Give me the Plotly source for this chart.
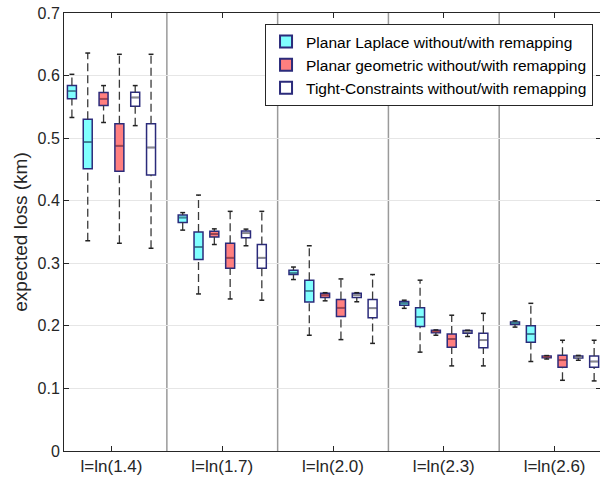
import plotly.graph_objects as go

# Group labels (privacy level) placed at integer positions 1..5
groups = ["l=ln(1.4)", "l=ln(1.7)", "l=ln(2.0)", "l=ln(2.3)", "l=ln(2.6)"]

# Box statistics: lower whisker, Q1, median, Q3, upper whisker
laplace_without_lo = [0.533, 0.353, 0.274, 0.228, 0.198]
laplace_without_q1 = [0.563, 0.365, 0.282, 0.233, 0.202]
laplace_without_md = [0.575, 0.373, 0.285, 0.236, 0.2045]
laplace_without_q3 = [0.584, 0.377, 0.289, 0.239, 0.206]
laplace_without_hi = [0.602, 0.381, 0.294, 0.241, 0.208]

laplace_with_lo = [0.336, 0.251, 0.185, 0.158, 0.143]
laplace_with_q1 = [0.451, 0.306, 0.238, 0.199, 0.174]
laplace_with_md = [0.494, 0.326, 0.256, 0.214, 0.187]
laplace_with_q3 = [0.530, 0.350, 0.273, 0.229, 0.200]
laplace_with_hi = [0.636, 0.409, 0.328, 0.273, 0.236]

geometric_without_lo = [0.525, 0.330, 0.240, 0.185, 0.147]
geometric_without_q1 = [0.552, 0.342, 0.2455, 0.189, 0.149]
geometric_without_md = [0.563, 0.347, 0.249, 0.191, 0.1507]
geometric_without_q3 = [0.573, 0.351, 0.252, 0.193, 0.152]
geometric_without_hi = [0.584, 0.355, 0.253, 0.1935, 0.1525]

geometric_with_lo = [0.332, 0.243, 0.178, 0.136, 0.113]
geometric_with_q1 = [0.447, 0.292, 0.215, 0.166, 0.134]
geometric_with_md = [0.488, 0.309, 0.229, 0.179, 0.145]
geometric_with_q3 = [0.523, 0.332, 0.242, 0.187, 0.153]
geometric_with_hi = [0.634, 0.383, 0.275, 0.217, 0.177]

tight_without_lo = [0.520, 0.328, 0.2385, 0.183, 0.145]
tight_without_q1 = [0.551, 0.341, 0.2455, 0.188, 0.1486]
tight_without_md = [0.565, 0.348, 0.249, 0.1905, 0.150]
tight_without_q3 = [0.5735, 0.3515, 0.252, 0.1925, 0.1518]
tight_without_hi = [0.584, 0.3546, 0.253, 0.193, 0.1528]

tight_with_lo = [0.324, 0.241, 0.172, 0.136, 0.112]
tight_with_q1 = [0.441, 0.292, 0.213, 0.165, 0.134]
tight_with_md = [0.485, 0.309, 0.228, 0.177, 0.143]
tight_with_q3 = [0.523, 0.330, 0.242, 0.188, 0.152]
tight_with_hi = [0.634, 0.383, 0.282, 0.220, 0.177]

method_names = [
    "Planar Laplace without/with remapping",
    "Planar geometric without/with remapping",
    "Tight-Constraints without/with remapping",
]
fill_colors = ["#80ffff", "#ff7f7f", "#ffffff"]
median_colors = ["#3f8f96", "#a8464a", "#8a8a8a"]
edge_color = "#2b2b7b"

stats = [
    [
        (laplace_without_lo, laplace_without_q1, laplace_without_md, laplace_without_q3, laplace_without_hi),
        (laplace_with_lo, laplace_with_q1, laplace_with_md, laplace_with_q3, laplace_with_hi),
    ],
    [
        (geometric_without_lo, geometric_without_q1, geometric_without_md, geometric_without_q3, geometric_without_hi),
        (geometric_with_lo, geometric_with_q1, geometric_with_md, geometric_with_q3, geometric_with_hi),
    ],
    [
        (tight_without_lo, tight_without_q1, tight_without_md, tight_without_q3, tight_without_hi),
        (tight_with_lo, tight_with_q1, tight_with_md, tight_with_q3, tight_with_hi),
    ],
]

n_groups = len(groups)
centers = list(range(1, n_groups + 1))
step = 1 / 7          # spacing between neighbouring boxes inside a group
box_w = 0.081         # box width in axis units
cap_half = 0.022      # half width of whisker caps

fig = go.Figure()

whisk_x, whisk_y, cap_x, cap_y = [], [], [], []
for m, name in enumerate(method_names):
    xs, lo_all, q1_all, md_all, q3_all, hi_all = [], [], [], [], [], []
    for v in range(2):
        k = 2 * m + v
        lo, q1, md, q3, hi = stats[m][v]
        for g in range(n_groups):
            xs.append(centers[g] + (k - 2.5) * step)
            lo_all.append(lo[g]); q1_all.append(q1[g]); md_all.append(md[g])
            q3_all.append(q3[g]); hi_all.append(hi[g])

    # dashed whiskers and solid caps
    for x, lo, q1, q3, hi in zip(xs, lo_all, q1_all, q3_all, hi_all):
        whisk_x += [x, x, None, x, x, None]
        whisk_y += [q3, hi, None, lo, q1, None]
        cap_x += [x - cap_half, x + cap_half, None, x - cap_half, x + cap_half, None]
        cap_y += [hi, hi, None, lo, lo, None]

    fig.add_trace(go.Box(
        name=name,
        x=xs,
        q1=q1_all, median=md_all, q3=q3_all,
        lowerfence=q1_all, upperfence=q3_all,
        width=box_w,
        fillcolor=fill_colors[m],
        line=dict(color=edge_color, width=1.5),
        whiskerwidth=0,
        boxpoints=False,
        hoverinfo="skip",
        showlegend=True,
    ))

    # median lines in a tone blended with the box fill
    mx, my = [], []
    for x, md in zip(xs, md_all):
        mx += [x - box_w / 2 + 0.006, x + box_w / 2 - 0.006, None]
        my += [md, md, None]
    fig.add_trace(go.Scatter(
        x=mx, y=my, mode="lines",
        line=dict(color=median_colors[m], width=1.6),
        showlegend=False, hoverinfo="skip",
    ))

fig.add_trace(go.Scatter(
    x=whisk_x, y=whisk_y, mode="lines",
    line=dict(color="#3a3a3a", width=1.3, dash="8px,4px"),
    showlegend=False, hoverinfo="skip",
))
fig.add_trace(go.Scatter(
    x=cap_x, y=cap_y, mode="lines",
    line=dict(color="#222222", width=1.5),
    showlegend=False, hoverinfo="skip",
))

# vertical separators between groups
for c in centers[:-1]:
    fig.add_shape(type="line", xref="x", yref="paper",
                  x0=c + 0.5, x1=c + 0.5, y0=0, y1=1,
                  line=dict(color="#9a9a9a", width=1.5), layer="below")

font_family = "Liberation Sans, Arial, Helvetica, sans-serif"

fig.update_layout(
    width=600, height=478,
    margin=dict(l=64, r=0, t=13, b=27),
    paper_bgcolor="white", plot_bgcolor="white",
    font=dict(family=font_family, size=16, color="#262626"),
    boxmode="overlay",
    legend=dict(
        x=0.987, y=0.975, xanchor="right", yanchor="top",
        bgcolor="white", bordercolor="#262626", borderwidth=1,
        font=dict(size=15.5, color="#000000"),
        tracegroupgap=0, itemsizing="constant",
    ),
    xaxis=dict(
        range=[4 / 7, 5.41],
        tickmode="array", tickvals=centers, ticktext=groups,
        ticks="inside", ticklen=5, tickcolor="#262626",
        showline=True, linecolor="#262626", linewidth=1,
        mirror="ticks", showgrid=False, zeroline=False,
        tickfont=dict(size=17),
    ),
    yaxis=dict(
        range=[0, 0.7], dtick=0.1, tickformat="~g",
        ticks="inside", ticklen=5, tickcolor="#262626",
        showline=True, linecolor="#262626", linewidth=1,
        showgrid=True, gridcolor="#e6e6e6", gridwidth=1,
        zeroline=False,
        title=dict(text="expected loss (km)", font=dict(size=19), standoff=4),
        tickfont=dict(size=16),
    ),
    yaxis2=dict(
        overlaying="y", side="right", range=[0, 0.7], dtick=0.1,
        ticks="inside", ticklen=4, tickcolor="#262626",
        showticklabels=False, showgrid=False, showline=False, zeroline=False,
    ),
)

# invisible trace so the right-hand axis renders its ticks
fig.add_trace(go.Scatter(x=[None], y=[None], yaxis="y2", showlegend=False, hoverinfo="skip"))

fig.write_html("out.html")
